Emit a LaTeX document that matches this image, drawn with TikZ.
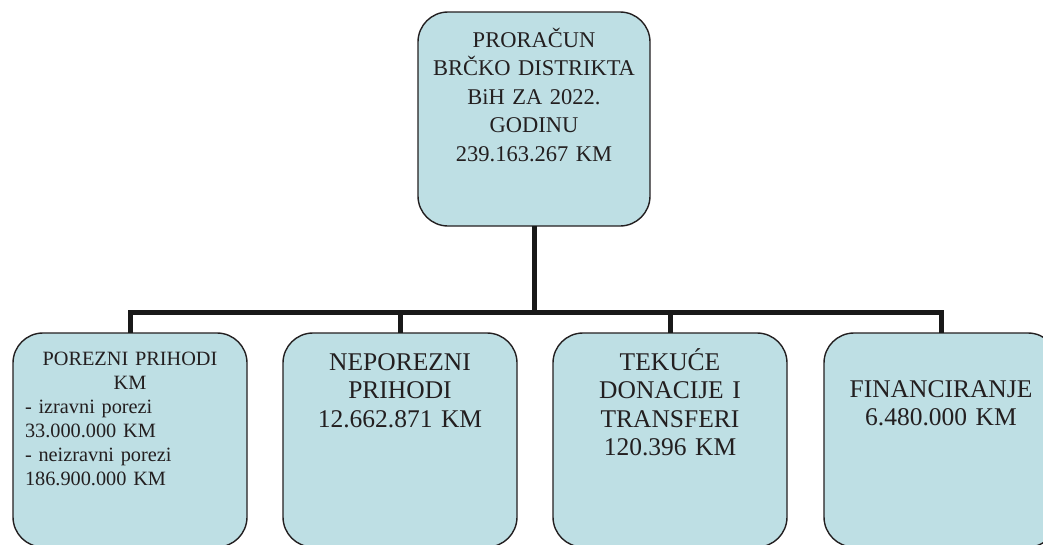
\documentclass[tikz,border=0pt]{standalone}
\usepackage{fontspec}
\setmainfont{Liberation Serif}
\usetikzlibrary{positioning}
\definecolor{boxfill}{RGB}{190,223,228}
\definecolor{inkgray}{RGB}{35,31,32}

\begin{document}
\begin{tikzpicture}[
    x=1pt, y=-1pt,
    box/.style={rectangle, draw=inkgray, line width=1.4pt, fill=boxfill, rounded corners=30pt, inner sep=0pt, outer sep=0pt, text width=234pt, align=center, anchor=north, text=inkgray, font=\fontsize{25.5}{28.5}\selectfont, text height=37pt, text depth=177pt},
    conn/.style={line width=5pt, black!90}
]
\useasboundingbox (0,0) rectangle (1043,544);

% Budget total
\node[box, text width=232pt, text height=35pt, text depth=179pt, font=\fontsize{22.5}{28.5}\selectfont] (budget) at (534,12) {PRORAČUN\\BRČKO DISTRIKTA\\BiH ZA 2022.\\GODINU\\239.163.267 KM};

% Revenue groups
\node[box, text width=210pt, inner xsep=12pt, align=left, text height=32pt, text depth=182pt, font=\fontsize{20.3}{24}\selectfont] (porezni) at (130,333) {{\centering POREZNI PRIHODI\\KM\par}\raggedright - izravni porezi\\33.000.000 KM\\- neizravni porezi\\186.900.000 KM};
\node[box] (neporezni) at (400,333) {NEPOREZNI\\PRIHODI\\12.662.871 KM};
\node[box] (donacije) at (670,333) {TEKUĆE\\DONACIJE I\\TRANSFERI\\120.396 KM};
\node[box, text height=64pt, text depth=150pt] (financiranje) at (941,333) {FINANCIRANJE\\6.480.000 KM};

% Connectors
\draw[conn] (budget.south) -- ++(0,86) -| (porezni.north);
\draw[conn] (budget.south) -- ++(0,86) -| (neporezni.north);
\draw[conn] (budget.south) -- ++(0,86) -| (donacije.north);
\draw[conn] (budget.south) -- ++(0,86) -| (financiranje.north);

\end{tikzpicture}
\end{document}
